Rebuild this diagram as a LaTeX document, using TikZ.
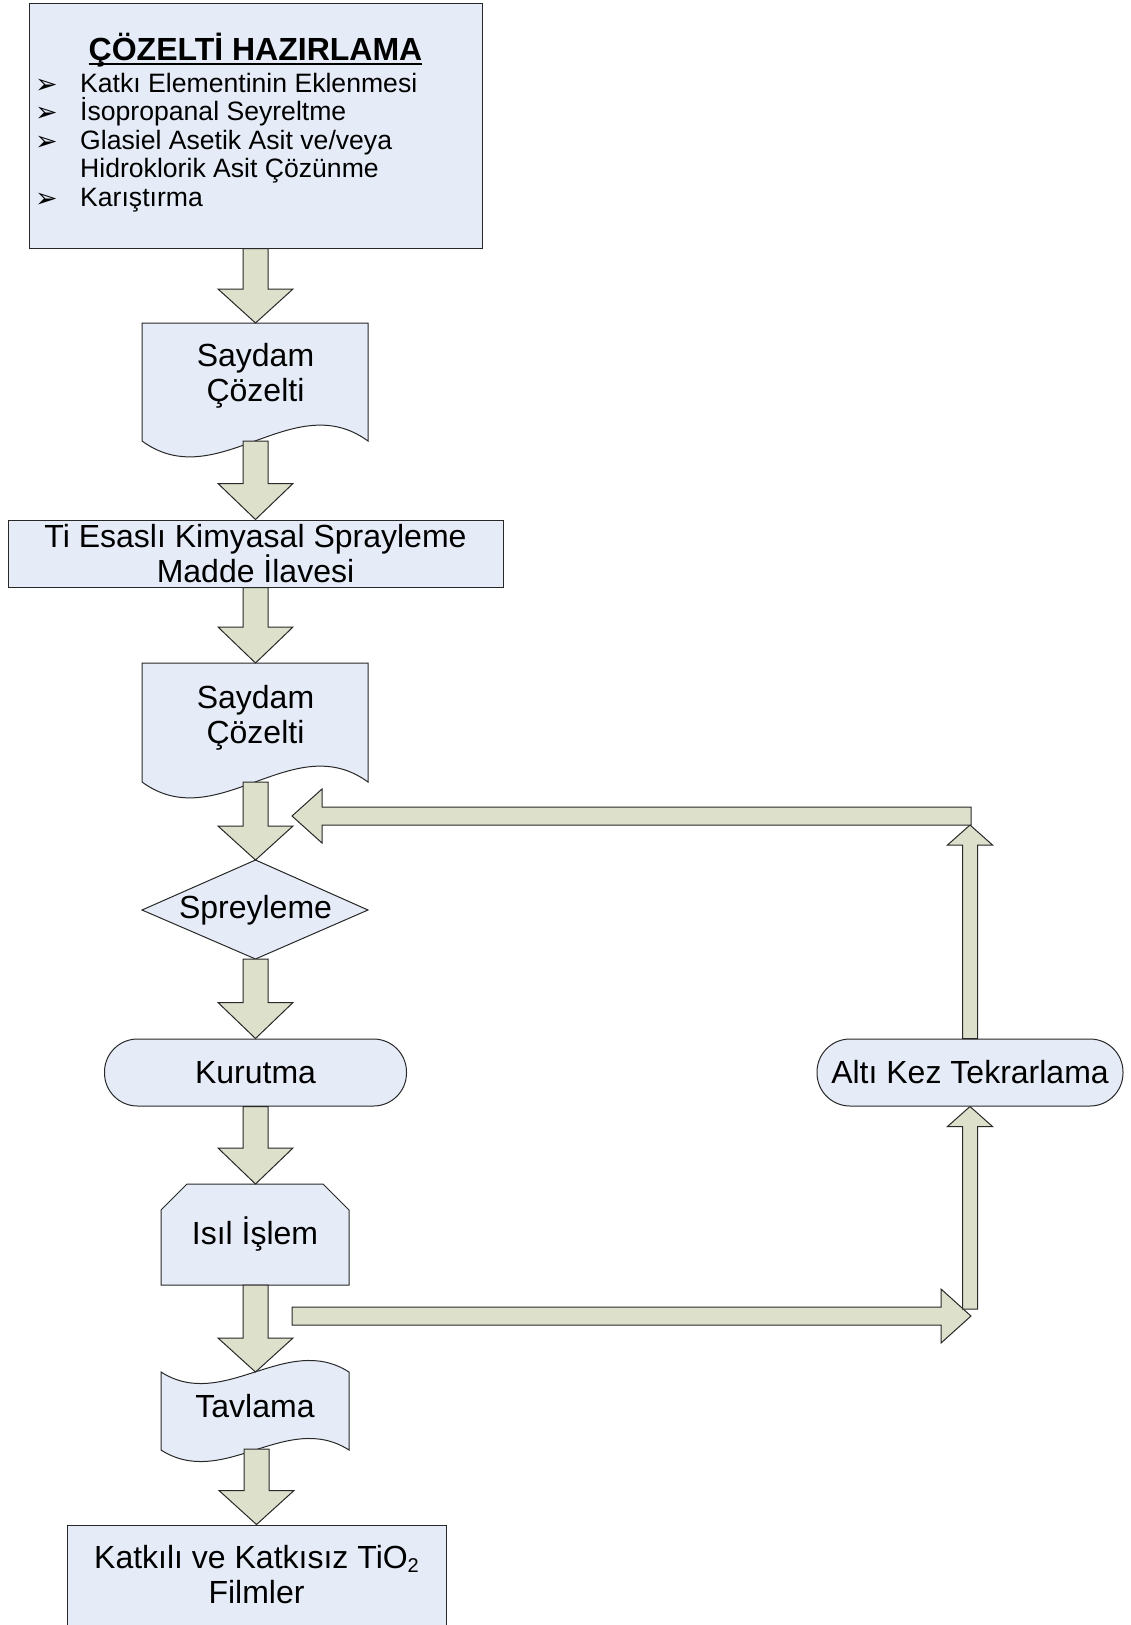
\documentclass[tikz,border=0pt]{standalone}
\usepackage{fontspec}
\setmainfont{Liberation Sans}
\newfontfamily\djv{DejaVu Sans}
\usetikzlibrary{calc}
\definecolor{boxfill}{RGB}{229,236,248}
\definecolor{arrfill}{RGB}{221,224,203}
\definecolor{edgecol}{RGB}{40,40,40}
\newcommand\BlockDown[3]{%
  \filldraw[barrow] let \p1=(#1), \p2=(#2) in
   (\x2-12.5pt,\y1) -- (\x2+12.5pt,\y1) -- (\x2+12.5pt,\y2+#3) -- (\x2+37.5pt,\y2+#3)
   -- (\x2,\y2) -- (\x2-37.5pt,\y2+#3) -- (\x2-12.5pt,\y2+#3) -- cycle;}
\newcommand\BlockUp[2]{%
  \filldraw[barrow] let \p1=(#1), \p2=(#2) in
   (\x2-7.5pt,\y1) -- (\x2-7.5pt,\y2-20pt) -- (\x2-22.5pt,\y2-20pt) -- (\x2,\y2)
   -- (\x2+22.5pt,\y2-20pt) -- (\x2+7.5pt,\y2-20pt) -- (\x2+7.5pt,\y1) -- cycle;}
\newcommand\BlockLeft[2]{%
  \filldraw[barrow] let \p1=(#1), \p2=(#2) in
   (\x1,\y2+9pt) -- (\x2+30pt,\y2+9pt) -- (\x2+30pt,\y2+27pt) -- (\x2,\y2)
   -- (\x2+30pt,\y2-27pt) -- (\x2+30pt,\y2-9pt) -- (\x1,\y2-9pt) -- cycle;}
\newcommand\BlockRight[2]{%
  \filldraw[barrow] let \p1=(#1), \p2=(#2) in
   (\x1,\y2+9pt) -- (\x2-30pt,\y2+9pt) -- (\x2-30pt,\y2+27pt) -- (\x2,\y2)
   -- (\x2-30pt,\y2-27pt) -- (\x2-30pt,\y2-9pt) -- (\x1,\y2-9pt) -- cycle;}
\begin{document}
\begin{tikzpicture}[x=1pt,y=-1pt,
  shapebox/.style={draw=edgecol,fill=boxfill,line width=1pt},
  barrow/.style={draw=edgecol,fill=arrfill,line width=1pt,line join=miter},
  lbl/.style={font=\fontsize{32}{35}\selectfont,align=center,inner sep=0pt},
  bul/.style={font=\fontsize{26.6}{30}\selectfont,anchor=base west,inner sep=0pt},
  bulmark/.style={font=\djv\fontsize{27}{28}\selectfont,anchor=base west,inner sep=0pt},
]
\useasboundingbox (0,0) rectangle (1131,1625);

% ---- top box
\node[shapebox,minimum width=453pt,minimum height=245pt,inner sep=0pt] (prep) at (255.5,125.5) {};
\node[font=\fontsize{32}{36}\selectfont\bfseries,anchor=base,inner sep=0pt] (title) at (255.5,60) {ÇÖZELTİ HAZIRLAMA};
\draw[line width=2pt] ($(title.base west)+(0,4)$) -- ($(title.base east)+(0,4)$);
\node[bulmark] (m1) at (35,93) {➢};
\node[bul] (b1) at (80,92) {Katkı Elementinin Eklenmesi};
\node[bulmark] (m2) at (35,121.5) {➢};
\node[bul] (b2) at (80,120.5) {İsopropanal Seyreltme};
\node[bulmark] (m3) at (35,150) {➢};
\node[bul] (b3) at (80,149) {Glasiel Asetik Asit ve/veya};
\node[bul] (b4) at (80,177.5) {Hidroklorik Asit Çözünme};
\node[bulmark] (m5) at (35,207) {➢};
\node[bul] (b5) at (80,206) {Karıştırma};

% ---- document 1
\draw[shapebox] (142,323) -- (368,323) -- (368,441)
   .. controls (292.7,386) and (217.3,496) .. (142,441) -- cycle;
\coordinate (doc1top) at (255.5,323);
\coordinate (doc1bot) at (255.5,441);
\node[lbl] (doc1) at (255.5,376) {Saydam\\Çözelti};

% ---- Ti box
\node[shapebox,lbl,minimum width=495pt,minimum height=67pt] (tibox) at (255.5,553.5)
  {Ti Esaslı Kimyasal Sprayleme\\Madde İlavesi};

% ---- document 2
\draw[shapebox] (142,663) -- (368,663) -- (368,782)
   .. controls (292.7,727) and (217.3,837) .. (142,782) -- cycle;
\coordinate (doc2top) at (255.5,663);
\coordinate (doc2bot) at (255.5,782);
\node[lbl] (doc2) at (255.5,718) {Saydam\\Çözelti};

% ---- diamond
\draw[shapebox] (255.5,860) -- (368,910) -- (255.5,959) -- (142,910) -- cycle;
\coordinate (diatop) at (255.5,860);
\coordinate (diabot) at (255.5,959);
\node[lbl] (spray) at (255.5,910) {Spreyleme};

% ---- Kurutma
\node[shapebox,lbl,rounded corners=33pt,minimum width=302pt,minimum height=67pt] (kuru) at (255.5,1072.5) {Kurutma};

% ---- Isil Islem
\draw[shapebox] (161,1285) -- (161,1210) -- (187,1184) -- (323,1184) -- (349,1210) -- (349,1285) -- cycle;
\coordinate (isiltop) at (255.5,1184);
\coordinate (isilbot) at (255.5,1285);
\node[lbl] (isil) at (255,1234) {Isıl İşlem};

% ---- Tavlama
\draw[shapebox] (161,1372) .. controls (223.7,1412) and (286.3,1332) .. (349,1372)
   -- (349,1450) .. controls (286.3,1410) and (223.7,1490) .. (161,1450) -- cycle;
\coordinate (tavtop) at (255.5,1372);
\coordinate (tavbot) at (255.5,1449);
\node[lbl] (tav) at (255,1406.5) {Tavlama};

% ---- final box
\node[shapebox,lbl,minimum width=379pt,minimum height=100pt] (final) at (256.5,1575)
  {Katkılı ve Katkısız TiO{\fontsize{20}{20}\selectfont\raisebox{-4pt}{2}}\\Filmler};

% ---- Alti Kez
\node[shapebox,lbl,rounded corners=33pt,minimum width=306pt,minimum height=67pt] (alti) at (970,1072.5) {Altı Kez Tekrarlama};

% ---- main vertical arrows
\BlockDown{prep.south}{doc1top}{34pt}
\BlockDown{doc1bot}{tibox.north}{36pt}
\BlockDown{tibox.south}{doc2top}{36pt}
\BlockDown{doc2bot}{diatop}{34pt}
\BlockDown{diabot}{kuru.north}{36pt}
\BlockDown{kuru.south}{isiltop}{36pt}
\BlockDown{isilbot}{tavtop}{34pt}
\BlockDown{tavbot}{final.north}{34pt}

% ---- loop arrows
\coordinate (rfrom) at (292,1316);
\coordinate (rto) at (971,1316);
\coordinate (ufrom) at (970,1309);
\coordinate (uptip) at (970,825);
\coordinate (lfrom) at (971,816);
\coordinate (ltip) at (292,816);
\BlockRight{rfrom}{rto}
\BlockUp{ufrom}{alti.south}
\BlockUp{alti.north}{uptip}
\BlockLeft{lfrom}{ltip}
\end{tikzpicture}
\end{document}
